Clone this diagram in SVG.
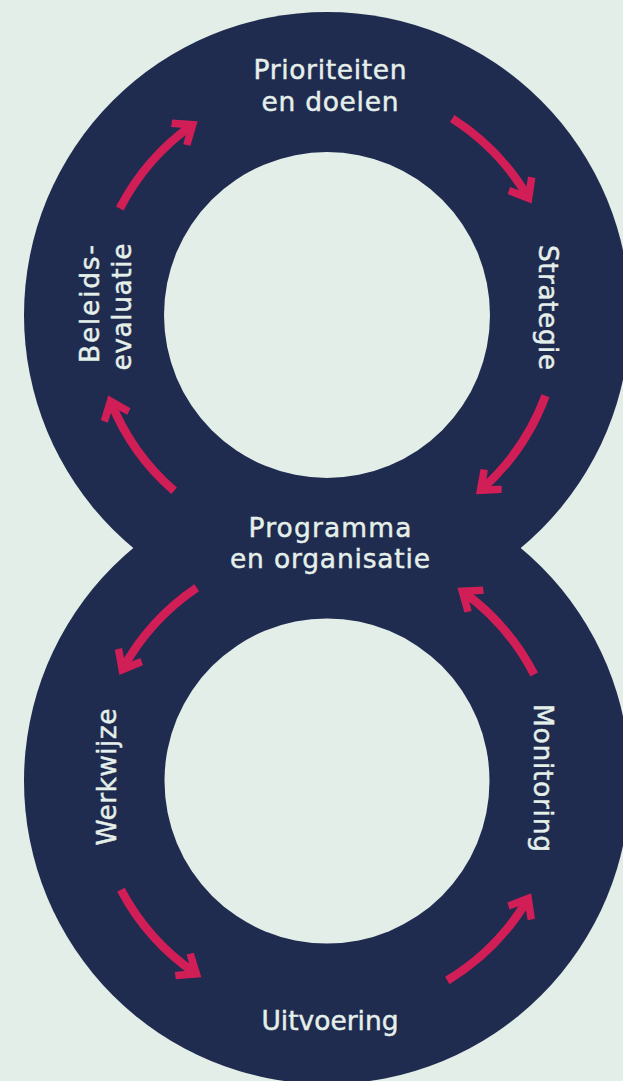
<svg xmlns="http://www.w3.org/2000/svg" width="623" height="1081" viewBox="0 0 623 1081">
  <style>
    .bg { fill: #e3eee8; }
    .ring { fill: #1f2b4f; }
    .lbl { font-family: "DejaVu Sans", "Open Sans", sans-serif; font-size: 26.5px; font-weight: normal; fill: #e5f0ea; stroke: #e5f0ea; stroke-width: 0.45; text-anchor: middle; }
    .arr { fill: none; stroke: #d21e57; stroke-width: 8.5; stroke-linecap: butt; marker-end: url(#ah); }
  </style>
  <defs>
    <marker id="ah" markerUnits="userSpaceOnUse" viewBox="-27 -17 34 34" markerWidth="34" markerHeight="34" refX="-6" refY="0" orient="auto">
      <path d="M0,0 L-20,-16 L-25,-10.5 L-12.5,0 L-25,10.5 L-20,16 Z" fill="#d21e57"/>
    </marker>
  </defs>
  <rect class="bg" x="0" y="0" width="623" height="1081"/>
  <g id="figure-eight">
    <circle class="ring" cx="327" cy="315" r="303"/>
    <circle class="ring" cx="327" cy="781" r="303"/>
    <circle class="bg" cx="327" cy="315" r="163"/>
    <circle class="bg" cx="327" cy="781" r="162.5"/>
  </g>
  <g id="connectors">
    <path class="arr" d="M119.8,208.5 A233,233 0 0 1 192.7,124.6"/>
    <path class="arr" d="M452.2,118.5 A233,233 0 0 1 528.6,198.2"/>
    <path class="arr" d="M545.5,395.8 A233,233 0 0 1 480.5,490.3"/>
    <path class="arr" d="M174.1,490.8 A233,233 0 0 1 110.5,401.1"/>
    <path class="arr" d="M196.7,587.8 A233,233 0 0 0 122.2,669.8"/>
    <path class="arr" d="M120.9,889.7 A233,233 0 0 0 196.4,973.9"/>
    <path class="arr" d="M447.3,980.5 A233,233 0 0 0 528.2,898.5"/>
    <path class="arr" d="M534.2,674.5 A233,233 0 0 0 462.3,591.3"/>
  </g>
  <g id="node-prioriteiten">
    <text class="lbl" x="330" y="79" textLength="153" lengthAdjust="spacing">Prioriteiten</text>
    <text class="lbl" x="330" y="111" textLength="137" lengthAdjust="spacing">en doelen</text>
  </g>
  <g id="node-strategie">
    <text class="lbl" transform="translate(539,307.5) rotate(90)" textLength="125" lengthAdjust="spacing">Strategie</text>
  </g>
  <g id="node-programma">
    <text class="lbl" x="330" y="537" textLength="163" lengthAdjust="spacing">Programma</text>
    <text class="lbl" x="330" y="568" textLength="200" lengthAdjust="spacing">en organisatie</text>
  </g>
  <g id="node-beleidsevaluatie">
    <text class="lbl" transform="translate(99,304) rotate(-90)" textLength="118" lengthAdjust="spacing">Beleids-</text>
    <text class="lbl" transform="translate(131,307) rotate(-90)" textLength="127" lengthAdjust="spacing">evaluatie</text>
  </g>
  <g id="node-werkwijze">
    <text class="lbl" transform="translate(116,777) rotate(-90)" textLength="137" lengthAdjust="spacing">Werkwijze</text>
  </g>
  <g id="node-monitoring">
    <text class="lbl" transform="translate(534,778) rotate(90)" textLength="148" lengthAdjust="spacing">Monitoring</text>
  </g>
  <g id="node-uitvoering">
    <text class="lbl" x="330" y="1030" textLength="137" lengthAdjust="spacing">Uitvoering</text>
  </g>
</svg>
